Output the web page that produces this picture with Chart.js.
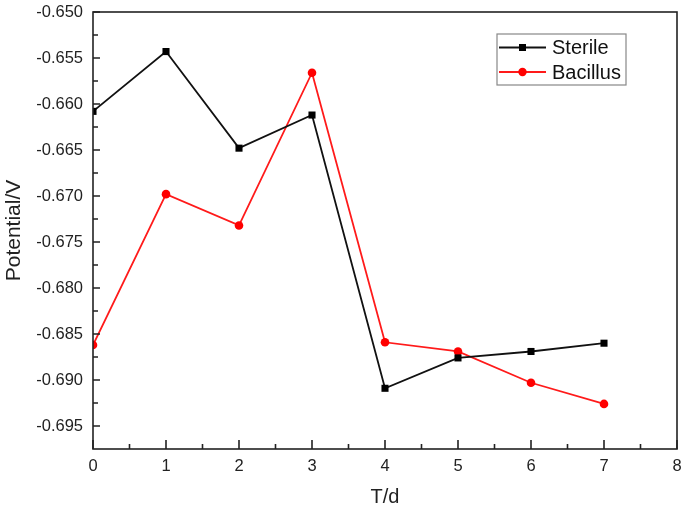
<!DOCTYPE html>
<html>
<head>
<meta charset="utf-8">
<script src="https://cdn.jsdelivr.net/npm/chart.js@4/dist/chart.umd.min.js"></script>
<style>
  html, body { margin: 0; padding: 0; background: #fff; }
  #wrap { width: 685px; height: 512px; }
</style>
</head>
<body>
<div id="wrap"><canvas id="c" width="685" height="512"></canvas></div>
<script>
const days = [0, 1, 2, 3, 4, 5, 6, 7];
const sterile = [-0.6608, -0.6543, -0.6648, -0.6612, -0.6909, -0.6876, -0.6869, -0.6860];
const bacillus = [-0.6862, -0.6698, -0.6732, -0.6566, -0.6859, -0.6869, -0.6903, -0.6926];
const xTicks = [0, 1, 2, 3, 4, 5, 6, 7, 8];
const yTicks = [-0.695, -0.690, -0.685, -0.680, -0.675, -0.670, -0.665, -0.660, -0.655, -0.650];
const seriesNames = ['Sterile', 'Bacillus'];

const FONT = "'Liberation Sans', Arial, sans-serif";

const toPts = ys => days.map((d, i) => ({ x: d, y: ys[i] }));

const frameTicks = {
  id: 'frameTicks',
  afterDraw(chart) {
    const { ctx, chartArea: a } = chart;
    const xs = chart.scales.x, ys = chart.scales.y;
    ctx.save();
    ctx.strokeStyle = '#222';
    ctx.lineWidth = 1.6;
    ctx.strokeRect(a.left, a.top, a.right - a.left, a.bottom - a.top);
    ctx.beginPath();
    for (let i = 0; i < xTicks.length; i++) {
      const p = xs.getPixelForValue(xTicks[i]);
      ctx.moveTo(p, a.bottom); ctx.lineTo(p, a.bottom - 9);
      if (i < xTicks.length - 1) {
        const m = xs.getPixelForValue((xTicks[i] + xTicks[i + 1]) / 2);
        ctx.moveTo(m, a.bottom); ctx.lineTo(m, a.bottom - 5);
      }
    }
    for (let i = 0; i < yTicks.length; i++) {
      const p = ys.getPixelForValue(yTicks[i]);
      ctx.moveTo(a.left, p); ctx.lineTo(a.left + 7, p);
      if (i < yTicks.length - 1) {
        const m = ys.getPixelForValue((yTicks[i] + yTicks[i + 1]) / 2);
        ctx.moveTo(a.left, m); ctx.lineTo(a.left + 5, m);
      }
    }
    ctx.stroke();

    // legend box
    const bx = 497, by = 34, bw = 129, bh = 51;
    ctx.lineWidth = 1.2;
    ctx.strokeStyle = '#888';
    ctx.fillStyle = '#fff';
    ctx.fillRect(bx, by, bw, bh);
    ctx.strokeRect(bx, by, bw, bh);
    chart.data.datasets.forEach((ds, i) => {
      const cy = by + 13.5 + i * 24.5;
      ctx.strokeStyle = ds.borderColor;
      ctx.lineWidth = 1.8;
      ctx.beginPath();
      ctx.moveTo(bx + 2, cy); ctx.lineTo(bx + 49, cy);
      ctx.stroke();
      ctx.fillStyle = ds.pointBackgroundColor;
      if (ds.pointStyle === 'rect') {
        ctx.fillRect(bx + 25.5 - 3.5, cy - 3.5, 7, 7);
      } else {
        ctx.beginPath(); ctx.arc(bx + 25.5, cy, 4.2, 0, Math.PI * 2); ctx.fill();
      }
      ctx.fillStyle = '#111';
      ctx.font = '20px ' + FONT;
      ctx.textBaseline = 'middle';
      ctx.textAlign = 'left';
      ctx.fillText(ds.label, bx + 55, cy + 1);
    });
    ctx.restore();
  }
};

new Chart(document.getElementById('c'), {
  type: 'line',
  data: {
    datasets: [
      {
        label: seriesNames[0], data: toPts(sterile),
        borderColor: '#111', backgroundColor: '#000', pointBackgroundColor: '#000',
        pointBorderColor: '#000', pointStyle: 'rect', pointRadius: 5, pointBorderWidth: 0,
        borderWidth: 1.8, tension: 0
      },
      {
        label: seriesNames[1], data: toPts(bacillus),
        borderColor: '#ff1a1a', backgroundColor: '#ff0000', pointBackgroundColor: '#ff0000',
        pointBorderColor: '#ff0000', pointStyle: 'circle', pointRadius: 4.3, pointBorderWidth: 0,
        borderWidth: 1.8, tension: 0
      }
    ]
  },
  options: {
    responsive: false,
    animation: false,
    layout: { padding: { left: 0, right: 8, top: 12, bottom: 0 } },
    plugins: { legend: { display: false }, tooltip: { enabled: false } },
    scales: {
      x: {
        type: 'linear', min: 0, max: 8,
        afterBuildTicks: s => { s.ticks = xTicks.map(v => ({ value: v })); },
        afterFit: s => { s.height = 63; s.paddingLeft = 0; s.paddingRight = 0; },
        grid: { display: false, drawTicks: false },
        border: { display: false },
        ticks: { padding: 8, color: '#222', font: { family: FONT, size: 16.5 }, callback: v => String(v), maxRotation: 0 },
        title: { display: true, text: 'T/d', color: '#222', font: { family: FONT, size: 20 }, padding: { top: 8, bottom: 3 } }
      },
      y: {
        type: 'linear', min: -0.6975, max: -0.650,
        afterBuildTicks: s => { s.ticks = yTicks.map(v => ({ value: v })); },
        afterFit: s => { s.width = 93; s.paddingTop = 0; s.paddingBottom = 0; },
        grid: { display: false, drawTicks: false },
        border: { display: false },
        ticks: { padding: 10, color: '#222', font: { family: FONT, size: 16.5 }, callback: v => Number(v).toFixed(3) },
        title: { display: true, text: 'Potential/V', color: '#222', font: { family: FONT, size: 21 }, padding: { top: 2, bottom: 10 } }
      }
    }
  },
  plugins: [frameTicks]
});
</script>
</body>
</html>
